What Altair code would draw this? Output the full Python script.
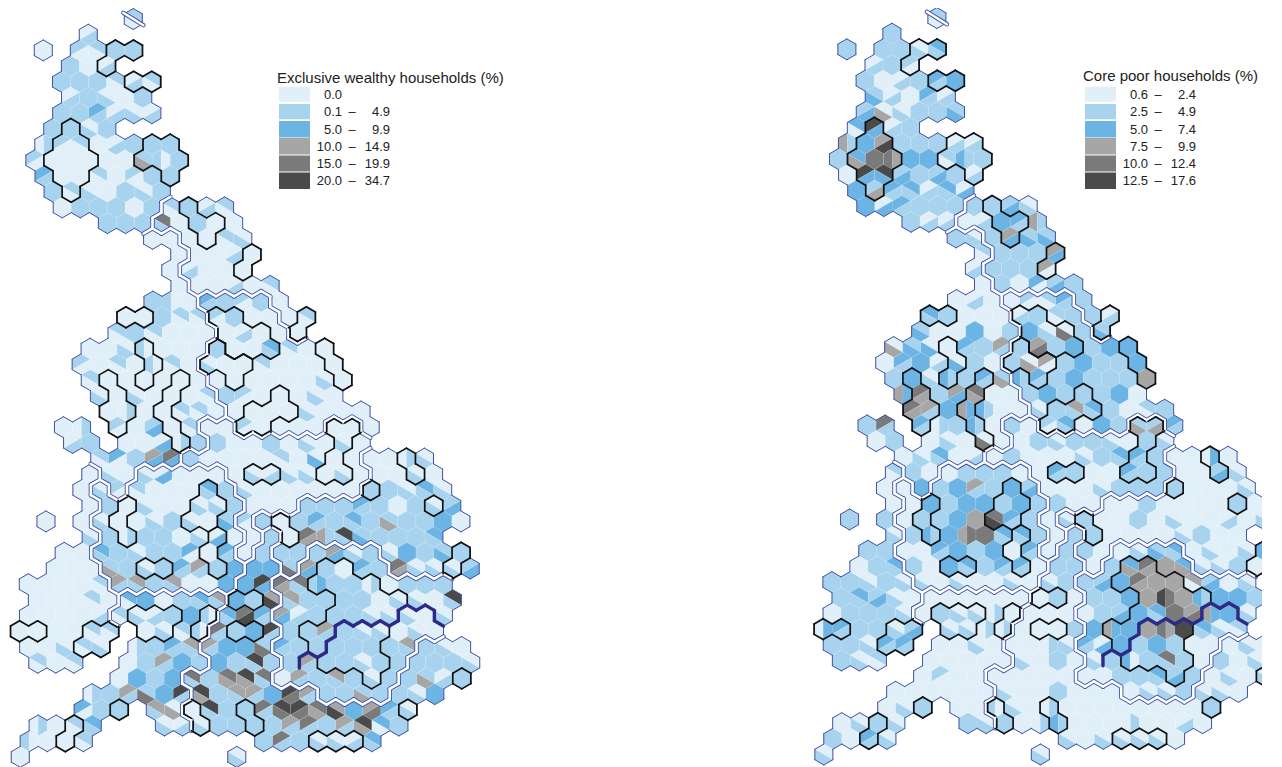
import altair as alt
import pandas as pd

# ---- colour classes ----
CLASS_KEYS = ["a", "b", "c", "d", "e", "f"]
CLASS_COLORS = ["#e1eff9", "#a7d3ee", "#6cb4e4", "#a6a6a6", "#7a7a7a", "#4a4a4a"]

# ---- legends ----
LEFT_TITLE = "Exclusive wealthy households (%)"
LEFT_LOW = ["0.0", "0.1", "5.0", "10.0", "15.0", "20.0"]
LEFT_HIGH = ["", "4.9", "9.9", "14.9", "19.9", "34.7"]
RIGHT_TITLE = "Core poor households (%)"
RIGHT_LOW = ["0.6", "2.5", "5.0", "7.5", "10.0", "12.5"]
RIGHT_HIGH = ["2.4", "4.9", "7.4", "9.9", "12.4", "17.6"]

# ---- hex layout: row -> segments (region, first column, last column) ----
LAYOUT = {
0:[("S",10,10)],1:[("S",5,5)],2:[("S",0,0),("S",4,10)],3:[("S",3,7)],4:[("S",2,12)],5:[("S",3,11)],
6:[("S",2,12)],7:[("S",1,7)],8:[("S",0,14)],9:[("S",-1,15)],10:[("S",0,14)],11:[("S",1,13)],
12:[("S",2,12),("N",14,20)],13:[("S",7,11),("N",13,21)],14:[("W",12,14),("N",16,22)],
15:[("W",15,15),("N",17,23)],16:[("W",14,14),("N",16,22)],17:[("W",15,15),("N",17,25)],
18:[("W",12,16),("Y",18,24),("N",26,26)],19:[("W",9,17),("Y",19,25),("N",27,29)],
20:[("W",8,18),("Y",20,26),("N",28,28)],21:[("W",5,17),("Y",19,31)],22:[("W",4,16),("Y",18,32)],
23:[("W",5,17),("Y",19,33)],24:[("W",6,18),("Y",20,32)],25:[("W",7,19),("Y",21,35)],
26:[("W",2,4),("W",8,16),("M",18,20),("Y",22,30),("M",32,34),("Y",36,36)],
27:[("W",3,5),("W",9,17),("M",19,35)],28:[("W",6,14),("M",16,34),("E",36,42)],
29:[("C",5,5),("W",7,9),("H",11,19),("M",21,35),("E",37,43)],
30:[("C",4,4),("H",6,6),("W",8,8),("H",10,20),("M",22,34),("E",36,44)],
31:[("C",5,5),("H",7,21),("M",23,27),("E",29,45)],
32:[("C",0,0),("C",4,4),("H",6,20),("M",22,22),("E",24,46)],
33:[("C",5,5),("H",7,21),("M",23,23),("T",25,25),("E",27,43)],
34:[("C",2,4),("H",6,20),("M",22,22),("T",24,24),("E",26,28),("X",30,36),("E",38,44),("E",46,46)],
35:[("C",1,5),("H",7,21),("T",23,25),("E",27,27),("X",29,37),("E",39,45),("E",47,47)],
36:[("C",-2,6),("H",8,20),("T",22,24),("X",26,44)],37:[("C",-1,7),("V",9,19),("T",21,25),("X",27,45)],
38:[("C",-2,6),("V",8,18),("T",20,24),("X",26,44)],39:[("C",-3,7),("V",11,17),("T",19,25),("X",27,43)],
40:[("C",-2,6),("V",10,16),("T",18,24),("X",26,40),("T",42,46)],
41:[("C",-1,3),("V",9,17),("T",19,25),("X",27,39),("T",41,47)],
42:[("V",8,14),("T",16,24),("X",26,38),("T",40,46)],43:[("V",5,15),("T",17,29),("X",31,37),("T",39,43)],
44:[("V",4,8),("V",12,14),("T",16,40)],45:[("V",-1,5),("V",13,15),("T",17,39)],
46:[("V",-2,4),("T",24,36)],47:[("V",-3,-3),("T",21,21)],
}

# ---- outlined groups of hexes (row, columns) ----
GROUPS = [
{2:[8,10],3:[7]},{4:[10,12]},{7:[3],8:[2,4],9:[1,3,5],10:[2,4],11:[3]},{8:[12,14],9:[11,13,15],10:[14]},
{12:[16],13:[17,19],14:[18]},{15:[23],16:[22]},{19:[29],20:[28]},{19:[9,11]},
{19:[19,21],20:[20,22,24],21:[21,23,25]},{21:[19],22:[18,20,22],23:[21]},{21:[31],22:[32],23:[33]},
{21:[11],22:[12],23:[11]},{23:[7],24:[8],25:[7,9],26:[8]},{23:[15],24:[14],25:[13],26:[14],27:[15]},
{24:[26],25:[23,25,27],26:[22,24]},{26:[32,34],27:[33],28:[32],29:[31,33]},{29:[23,25]},
{28:[40],29:[41]},{30:[36]},{31:[43]},{34:[46],35:[45]},{32:[26],33:[27]},
{31:[9],32:[8],33:[9]},{30:[18],31:[17,19],32:[16,18]},{33:[19],34:[18],35:[19]},{35:[11,13]},
{39:[-3,-1]},{39:[5,7],40:[4,6]},{38:[10,12,14],39:[11,13]},{38:[18],39:[17]},{44:[8]},{45:[3],46:[2]},
{44:[16],45:[17]},{37:[21,23]},{39:[21,23]},{44:[22],45:[23]},{46:[30,32,34]},{44:[40]},{42:[46]},
{35:[31,33],36:[30,32,34,36],37:[33,35,37,39],38:[32,34,36,38],39:[29,31,33,35,37],40:[30,32,34,36],
 41:[31,33,35,37],42:[36]},
]
THICK_NORTH = {37:[39,41,43],38:[32,34,36,38,44],39:[31],40:[28,30],41:[27]}
THICK_SOUTH = {38:[40,42],39:[33,35,37,39,41,43],40:[32],41:[29,31]}

# ---- hex values: letter = class; two letters + digit = hex halved (1 "\", 2 "/", 3 "|") ----
LEFT = {
0:"ba1",1:"ab2",2:"a ba2 ba1 b b",3:"b a ab2",4:"b b b ba1 ab2 ba1",5:"ab2 b ab1 a b",6:"b b cb2 ab2 ab1 ab2",
7:"b b ab1 b",8:"ab3 ba2 ba1 a ab2 b b b",9:"ba2 a a a a a bd1 ba3 b",10:"cb2 a a ba1 a ba2 b b",
11:"b ba1 ab1 a b ab1 b",12:"a b b b a b ba1 b ab2 ba1",13:"b b b eb1 a b a a",14:"a a a a ba1 ab1",
15:"a a a ab2 a",16:"a ab2 a a a",17:"a a a ab2 a ba1",18:"b ba3 a cb2 b ba2 b a",
19:"a a b ba1 ba1 ba2 b a a a ba1",20:"ba1 b ba1 a a a a ab2 a a a",
21:"a a ab1 ba3 a a a b a a cb1 ba1 a a",22:"ba2 a ba1 a ba3 ba1 a ab1 a a ba1 a a a a",
23:"ba1 a a a a a a a a a a a a ab1 a",24:"ab1 a ab1 a a a ba1 b ba2 a a a ab1 a",
25:"a ab3 a a ba1 ba1 a a a a a ab1 a a a",26:"a ab3 ba2 a bc2 a ba1 a a ba2 a a a a a a a",
27:"ab2 b a a ac2 ab3 b b a a b a ab1 a ab1 a",28:"ba1 ca2 b dc2 ec2 b a a a a ba1 a ac1 a a a a ab3 ab1",
29:"a ab1 a ab1 ac2 a a a a ab1 ab2 ab1 ab1 a ab1 a a a ab1 a",
30:"a ab1 ba2 ba1 a a a cb1 b ab1 a a a a a a b b ab1 cb1 ab1",
31:"a b a ab1 a a ab1 ab1 b a a a b b b cb2 b a b ab1 bc2",
32:"a a ab1 a a ab1 b ab1 a bc1 ba2 b a b cb2 b cb1 b bd1 b b c a",
33:"ab1 b ab3 b b a ab1 ac2 a a b a ed2 db3 fb1 bc1 b b b cb1",
34:"a a cb1 b ab1 b b ca2 a cb2 a b b b b dc2 ab1 b ab1 c b bc1 b",
35:"a a a bd1 b ab1 b cb2 db2 b c c c be1 dc2 b a cb2 b ed2 ab1 ab1 ab1 bc2",
36:"a a a a ba1 db2 db1 b db1 a a c c fc2 ed2 eb1 bc3 b b ab3 a b b b",
37:"a a a ba1 a ca1 c a b cb1 db1 c b df1 db1 b b b b a ab1 ab1 a fb1",
38:"a a a a ab2 ba1 ab1 ab2 b c ba3 cb1 ef2 cb2 dc2 ab2 b b b ab1 ab1 ab1 a ab1",
39:"a a a a ba1 ba1 a ab1 ba1 ba3 eb2 b c fb2 b b db2 b ab1 ab1 a ab1 a",
40:"a a ab1 ba1 ab1 ab3 b cb2 db1 db2 c c be1 cb2 b b b b b b db1 b ab1 a",
41:"ba1 a ba1 a b db2 c b c b fb1 b b db2 b b ab1 b b b b b ab1",
42:"a c b c eb1 b ed1 fd1 eb1 a db2 b db1 b ab1 b b bd1 ab2 b",
43:"ab3 b db2 be1 c fb2 fd1 b db1 db2 c fe2 db2 b b bd1 b b ab1 c",
44:"ca2 b b db1 ad1 a fb1 b b eb2 fe1 fe2 ed1 df1 c de2 cb2 ab1",
45:"ab3 a ba1 cb1 ab1 ab2 ab1 b b b b db2 eb2 b db2 fd1 ca1 b",
46:"ba3 a a ba1 b eb2 b ab1 ab1 ab2 cb1",47:"a ab1",
}
RIGHT = {
0:"ba1",1:"b",2:"b b b ab1 cb1",3:"ab2 b ba2",4:"b a ab2 b cb2 c",5:"bc1 ab2 a cb2 ab2",6:"bc2 ad1 ab1 b b bc1",
7:"ca1 fc2 ab2 b",8:"db3 c df2 b b b ab2 ab2",9:"b cd1 e ed3 c c ba1 cb3 b",10:"a fc2 fc1 bc2 b bc2 b ab2",
11:"c bd2 cb2 cb1 ab2 cb1 ac2",12:"c ac2 cb2 b b b b b bc2 ab1",13:"b ab2 ab2 a ab2 c cb2 db3",
14:"b ab1 b dc2 bc1 bc1",15:"ba1 b b b dc2",16:"ab2 b b b da2",17:"a b a ca2 bc2 b",18:"a ab2 a a ba2 ba1 cb2 b",
19:"cb1 b a a a ab2 b ba1 b b ab2",20:"bc1 a a c a b c ab1 ae1 b bc1",
21:"ad1 bc1 ac1 a cb2 b db2 b de2 b c b c c",22:"a cb2 c ab2 ac1 b a b ad1 da2 b c b b c",
23:"b c ab1 cb3 b cb2 bd1 cb3 cb2 b c b b b d",24:"dc3 ed2 b dc2 ed1 a a b c b b b c a",
25:"ed2 db2 c dc3 cb3 a a ab1 b db1 cb1 b a ba1 b",26:"b eb2 cb2 ab3 b cb3 a b a ba2 cb1 a c b bd1 bd2 cb2",
27:"a b a ab1 a ae1 a a b ab1 b b ab1 a b ab1",28:"a ab1 cb1 a ab2 a b a a a ab1 b cb1 cb2 b a a ac3 a",
29:"ba1 b a a b b b a a cb2 b a a cb2 b b a a bc2 ab1",30:"a a c b c db2 b c bc2 a a a ab1 b b b b a a a ab1",
31:"a a c b c c b c b b a a a a b a a a a b a",
32:"b b a b b c d ef1 cb2 b a ab1 b a a b a ab1 a a ab2 a ab1",
33:"ab1 b cb3 c de3 e cb1 cb1 b a b b a a a a ab1 b a a",
34:"b b a a cb2 c b c a cb2 a b b a a ab1 bc1 cb1 a ab1 a ab1 cb3",
35:"a b cb1 b a c cb1 b cb2 cb2 a b b a b cd1 ed2 d cd1 ab1 ab1 b a a",
36:"b b ab1 b ab1 ab1 a ab1 a a ab1 a ab1 b b bc2 c ed2 d d da1 bc2 a ab1",
37:"b cb1 bc2 ab1 a a a a a a a a b a b b c d fe3 d cb3 c c b",
38:"a b b b ab1 a b ab1 ab1 ab3 a a a a a b bc2 c cb1 e de2 dc3 c ab1",
39:"ac3 cb2 b b ab1 bc2 ab1 ab1 ab3 ab3 a a a b c dc3 c d ed3 f cb1 ab1 ba1",
40:"b b ab1 cb2 cb2 a a ab1 a a a ab3 ab1 cb2 ac2 c b c b a a a ab1 a",
41:"b ab1 ba1 a a a a a ab1 a b a ab1 b ca3 b eb1 b a b a ab1 a",
42:"a ba2 a a a a a a a a a b b cb1 bc2 b a ab1 a ab1",
43:"a a a a a a ab1 a a b a a a a ab1 ab1 b ab1 ab1 a b",
44:"a ab1 b a a ba3 ab1 a ab3 a a a a a a a a b",
45:"a ab1 b ab1 b ab1 b a ab3 cb3 a a a ab3 a a ab2 a",
46:"b a cb2 ab1 ab1 a ab1 ab1 ab1 ab1 a",47:"ab1 ab1",
}

# ---- grid geometry ----
X0, DX, SHEAR = 43.1, 9.02, 0.09
Y0_L, DY_L = 19.0, 15.7
Y0_R, DY_R = 18.0, 15.67
SHIFT_R = 803.6
R = 10.47
W = DX
SIZE = 4 * R * R
S3 = W / R

def corner(name):
    return {"T": (0, -1), "UR": (S3, -0.5), "LR": (S3, 0.5), "B": (0, 1), "LL": (-S3, 0.5), "UL": (-S3, -0.5)}[name]

def pth(names):
    pts = [corner(n) for n in names]
    return "M" + " L".join(f"{x:.4f},{y:.4f}" for x, y in pts) + " Z"

SHAPES = {
    "full": pth(["T", "UR", "LR", "B", "LL", "UL"]),
    "1a": pth(["UL", "T", "UR", "LR"]), "1b": pth(["UL", "LR", "B", "LL"]),
    "2a": pth(["LL", "UL", "T", "UR"]), "2b": pth(["LL", "UR", "LR", "B"]),
    "3a": pth(["T", "B", "LL", "UL"]), "3b": pth(["T", "UR", "LR", "B"]),
}
SHAPE_KEYS = list(SHAPES)

region = {}
order = {}
for j, segs in LAYOUT.items():
    order[j] = []
    for reg, a, b in segs:
        for c in range(a, b + 1, 2):
            region[(j, c)] = reg
            order[j].append(c)

def centre(j, c, side):
    x = X0 + DX * c + SHEAR * j
    if side == "L":
        return x, Y0_L + DY_L * j
    return x + SHIFT_R, Y0_R + DY_R * j

pieces = []
for side, table in (("L", LEFT), ("R", RIGHT)):
    for j, cols in order.items():
        toks = table.get(j, "").split()
        for i, c in enumerate(cols):
            tok = toks[i] if i < len(toks) else "a"
            x, y = centre(j, c, side)
            if len(tok) == 1:
                pieces.append(dict(x=x, y=y, s="full", k=tok))
            else:
                pieces.append(dict(x=x, y=y, s=tok[2] + "a", k=tok[0]))
                pieces.append(dict(x=x, y=y, s=tok[2] + "b", k=tok[1]))
pieces = pd.DataFrame(pieces)

group_of = {}
for gi, g in enumerate(GROUPS):
    for j, cols in g.items():
        for c in cols:
            group_of[(j, c)] = gi
north = {(j, c) for j, cs in THICK_NORTH.items() for c in cs}
south = {(j, c) for j, cs in THICK_SOUTH.items() for c in cs}

NEIGH = [((0, 2), "UR", "LR"), ((0, -2), "LL", "UL"), ((-1, 1), "T", "UR"), ((-1, -1), "UL", "T"),
         ((1, 1), "LR", "B"), ((1, -1), "B", "LL")]

edges = {"outline": [], "double": [], "black": [], "thick": []}
for side in ("L", "R"):
    for (j, c), reg in region.items():
        cx, cy = centre(j, c, side)
        for (dj, dc), p, q in NEIGH:
            n = (j + dj, c + dc)
            (ax, ay), (bx, by) = corner(p), corner(q)
            e = dict(x=cx + ax * R, y=cy + ay * R, x2=cx + bx * R, y2=cy + by * R)
            if n not in region:
                edges["outline"].append(e)
            elif region[n] != reg and (j, c) < n:
                edges["double"].append(e)
            if (j, c) in group_of and group_of.get(n) != group_of[(j, c)]:
                # a group line that meets a regional line runs just inside it
                f = 0.82 if (n in region and region[n] != reg) else 1.0
                edges["black"].append(dict(x=cx + ax * R * f, y=cy + ay * R * f,
                                           x2=cx + bx * R * f, y2=cy + by * R * f))
            if (j, c) in north and n in south:
                edges["thick"].append(e)
    # the line that divides the northernmost hexagon
    cx, cy = centre(0, 10, side)
    (ax, ay), (bx, by) = corner("UL"), corner("LR")
    edges["double"].append(dict(x=cx + ax * R - 1, y=cy + ay * R - 1, x2=cx + bx * R + 1, y2=cy + by * R + 1))

sx = alt.Scale(domain=[8, 1262], nice=False, zero=False)
sy = alt.Scale(domain=[768, 8], nice=False, zero=False)
X = alt.X("x:Q", scale=sx, axis=None)
Y = alt.Y("y:Q", scale=sy, axis=None)

def rules(key, color, width):
    return alt.Chart(pd.DataFrame(edges[key])).mark_rule(
        color=color, strokeWidth=width, strokeCap="round", opacity=1, clip=True
    ).encode(x=X, y=Y, x2="x2:Q", y2="y2:Q")

hexes = alt.Chart(pieces).mark_point(
    filled=True, size=SIZE, opacity=1, stroke="#ffffff", strokeWidth=0.3, strokeOpacity=0.3, clip=True
).encode(
    x=X, y=Y,
    shape=alt.Shape("s:N", scale=alt.Scale(domain=SHAPE_KEYS, range=[SHAPES[k] for k in SHAPE_KEYS]), legend=None),
    color=alt.Color("k:N", scale=alt.Scale(domain=CLASS_KEYS, range=CLASS_COLORS), legend=None),
)

NAVY = "#3f51a3"
map_layers = [hexes, rules("outline", NAVY, 1.0), rules("double", NAVY, 4.4), rules("double", "#ffffff", 2.6),
              rules("black", "#111111", 1.7), rules("thick", "#2d2a86", 3.4)]

# ---- legends ----
def legend(title, lows, highs, title_x, title_y, sw_x, col1, dash, col2):
    tops = [86.7, 104, 121, 138, 155.5, 172.5]
    bots = [101.7, 119.3, 137.5, 154.5, 171.5, 189]
    rect = pd.DataFrame([dict(x=sw_x, x2=sw_x + 31, y=t, y2=b, k=k) for t, b, k in zip(tops, bots, CLASS_KEYS)])
    mids = [(t + b) / 2 + 0.3 for t, b in zip(tops, bots)]
    out = [alt.Chart(rect).mark_rect(opacity=1).encode(
        x=X, y=Y, x2="x2:Q", y2="y2:Q",
        color=alt.Color("k:N", scale=alt.Scale(domain=CLASS_KEYS, range=CLASS_COLORS), legend=None))]
    tx = dict(font="Liberation Sans", fontSize=13, color="#222222", baseline="middle")
    out.append(alt.Chart(pd.DataFrame([dict(x=title_x, y=title_y, t=title)])).mark_text(
        align="left", **{**tx, "fontSize": 15}).encode(x=X, y=Y, text="t:N"))
    low = pd.DataFrame([dict(x=col1, y=m, t=t) for m, t in zip(mids, lows)])
    out.append(alt.Chart(low).mark_text(align="right", **tx).encode(x=X, y=Y, text="t:N"))
    hi = pd.DataFrame([dict(x=col2, y=m, t=t) for m, t in zip(mids, highs) if t])
    out.append(alt.Chart(hi).mark_text(align="right", **tx).encode(x=X, y=Y, text="t:N"))
    da = pd.DataFrame([dict(x=dash, y=m, t="–") for m, t in zip(mids, highs) if t])
    out.append(alt.Chart(da).mark_text(align="center", **tx).encode(x=X, y=Y, text="t:N"))
    return out

leg = legend(LEFT_TITLE, LEFT_LOW, LEFT_HIGH, 277, 77.5, 279, 342, 352, 390) + \
      legend(RIGHT_TITLE, RIGHT_LOW, RIGHT_HIGH, 1083, 75.5, 1085, 1148, 1158, 1196)

chart = alt.layer(*map_layers, *leg).properties(width=1254, height=760, padding=0).configure_view(stroke=None)
chart.save("out.html", embed_options={"renderer": "svg", "actions": False})
